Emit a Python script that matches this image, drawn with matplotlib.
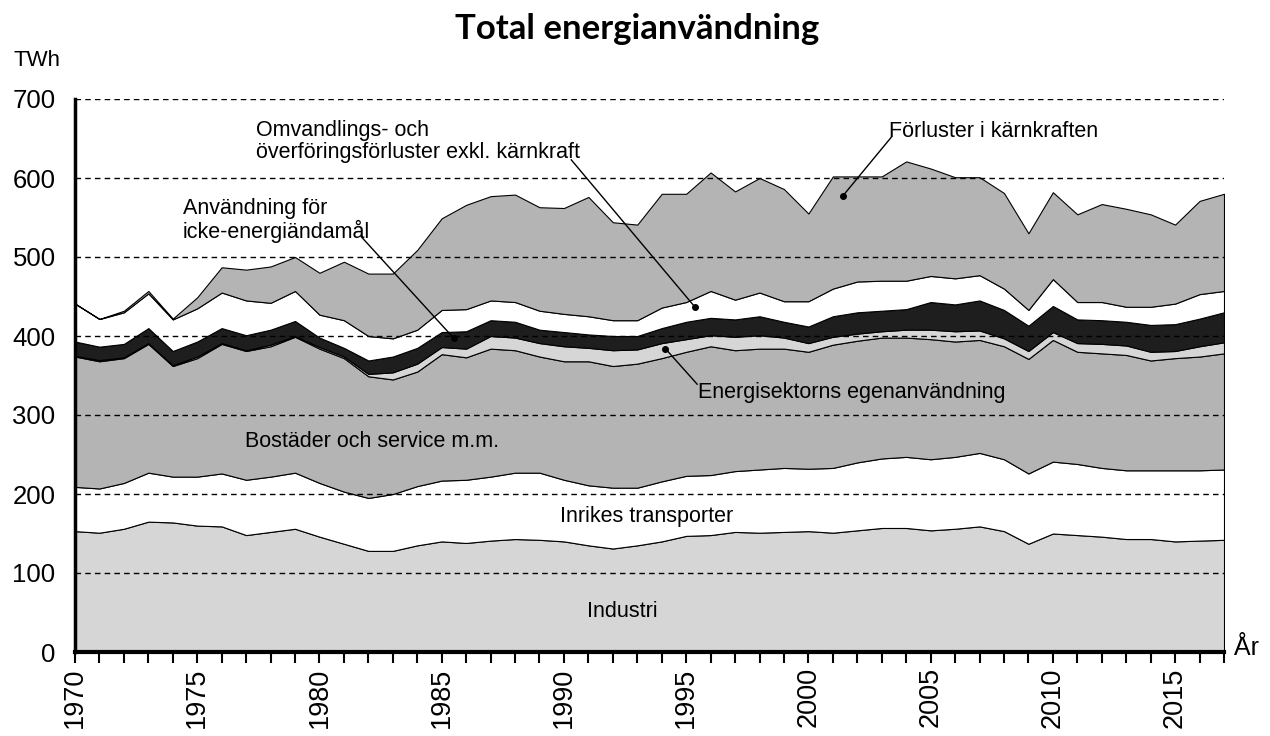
import numpy as np
import matplotlib
matplotlib.use("Agg")
import matplotlib.pyplot as plt

plt.rcParams["font.family"] = ["Liberation Sans", "DejaVu Sans"]

years = np.arange(1970, 2018)

# TWh per category, stacked bottom to top
industri = [153, 151, 156, 165, 164, 160, 159, 148, 152, 156, 146, 137, 128, 128, 135, 140,
            138, 141, 143, 142, 140, 135, 131, 135, 140, 147, 148, 152, 151, 152, 153, 151,
            154, 157, 157, 154, 156, 159, 153, 137, 150, 148, 146, 143, 143, 140, 141, 142]
transporter = [56, 56, 58, 62, 58, 62, 67, 70, 70, 71, 68, 66, 67, 72, 75, 77,
               80, 81, 84, 85, 78, 76, 77, 73, 76, 76, 76, 77, 80, 81, 79, 82,
               86, 88, 90, 90, 91, 93, 91, 89, 91, 90, 87, 87, 87, 90, 89, 89]
bostader = [165, 161, 158, 163, 140, 150, 164, 163, 165, 172, 170, 169, 154, 145, 145, 160,
            155, 162, 155, 147, 150, 157, 154, 157, 156, 157, 163, 153, 153, 151, 148, 156,
            154, 153, 151, 152, 146, 143, 143, 145, 154, 142, 145, 146, 139, 142, 144, 147]
energisektor = [1, 1.5, 1, 1, 1, 2, 1, 1, 2, 1, 2, 2, 3, 9, 10, 9,
                11, 16, 16, 17, 19, 17, 20, 18, 19, 16, 14, 17, 17, 14, 11, 10,
                9, 8, 10, 12, 13, 12, 10, 10, 10, 11, 12, 12, 11, 9, 13, 14]
icke_energi = [18, 17, 17, 19, 18, 19, 19, 19, 19, 19, 12, 11, 17, 20, 20, 19,
               22, 20, 20, 17, 18, 17, 18, 17, 19, 22, 22, 22, 24, 20, 21, 26,
               27, 26, 26, 35, 34, 38, 36, 32, 33, 30, 30, 30, 34, 34, 35, 38]
omvandling = [48, 35, 40, 44, 40, 42, 45, 44, 34, 38, 29, 35, 31, 23, 23, 28,
              28, 25, 25, 24, 23, 23, 20, 20, 26, 25, 34, 25, 30, 26, 32, 35,
              39, 38, 36, 33, 33, 32, 27, 20, 34, 22, 23, 19, 23, 26, 31, 27]
karnkraft = [0, 0, 2, 3, 1, 14, 32, 39, 46, 43, 53, 74, 79, 82, 101, 116,
             132, 132, 136, 131, 134, 151, 124, 121, 144, 137, 150, 137, 145, 142, 111, 142,
             133, 132, 151, 136, 128, 124, 121, 97, 110, 111, 124, 124, 117, 100, 118, 123]

layers = [industri, transporter, bostader, energisektor, icke_energi, omvandling, karnkraft]
colors = ["#d6d6d6", "#ffffff", "#b4b4b4", "#d6d6d6", "#1e1e1e", "#ffffff", "#b4b4b4"]

fig = plt.figure(figsize=(12.7, 7.36), dpi=100)
ax = fig.add_axes([75 / 1270, 1 - 652 / 736, (1224 - 75) / 1270, (652 - 99) / 736])

bottom = np.zeros(len(years))
for vals, col in zip(layers, colors):
    top = bottom + np.array(vals, dtype=float)
    ax.fill_between(years, bottom, top, facecolor=col, edgecolor="black", linewidth=0.8, zorder=1)
    bottom = top

ax.set_xlim(1970, 2017)
ax.set_ylim(0, 700)

# gridlines on top of the areas
for v in range(100, 701, 100):
    ax.axhline(v, color="black", linestyle=(0, (4, 3)), linewidth=1, zorder=3)

ax.spines["top"].set_visible(False)
ax.spines["right"].set_visible(False)
ax.spines["left"].set_linewidth(2.5)
ax.spines["bottom"].set_linewidth(3)
ax.spines["left"].set_zorder(4)
ax.spines["bottom"].set_zorder(4)

ax.set_yticks(range(0, 701, 100))
ax.tick_params(axis="y", length=0, pad=14, labelsize=18.5)
ax.set_xticks(range(1970, 2018, 5))
ax.set_xticks(years, minor=True)
ax.tick_params(axis="x", which="both", direction="out", length=8, width=1.5, labelsize=19.5,
               labelrotation=90, pad=3)

fig.text(0.5016, 1 - 29 / 736, "Total energianvändning", ha="center", va="center",
         fontsize=25, fontweight="bold", family=["Lato", "DejaVu Sans"])
fig.text(14 / 1270, 1 - 60 / 736, "TWh", ha="left", va="center", fontsize=16)
fig.text(1234 / 1270, 1 - 648 / 736, "År", ha="left", va="center", fontsize=18)

fs = 15.5
ax.text(1982.15, 267, "Bostäder och service m.m.", ha="center", va="center", fontsize=fs, zorder=5)
ax.text(1993.4, 172, "Inrikes transporter", ha="center", va="center", fontsize=fs, zorder=5)
ax.text(1992.4, 51, "Industri", ha="center", va="center", fontsize=fs, zorder=5)

# (text, text anchor, line start, line end / dot)
callouts = [
    ("Omvandlings- och\növerföringsförluster exkl. kärnkraft", (1977.4, 646), (1990.3, 623), (1995.35, 437)),
    ("Användning för\nicke-energiändamål", (1974.4, 546), (1981.7, 526), (1985.5, 397)),
    ("Förluster i kärnkraften", (2003.3, 659), (2003.4, 652), (2001.4, 577)),
    ("Energisektorns egenanvändning", (1995.5, 328), (1995.45, 339), (1994.15, 384)),
]
for label, txy, start, end in callouts:
    ax.text(txy[0], txy[1], label, ha="left", va="center", fontsize=fs, linespacing=1.05, zorder=5)
    ax.plot([start[0], end[0]], [start[1], end[1]], color="black", linewidth=1, zorder=5)
    ax.plot(end[0], end[1], "o", color="black", markersize=4, zorder=6, clip_on=False)

fig.savefig("out.png", dpi=100)
